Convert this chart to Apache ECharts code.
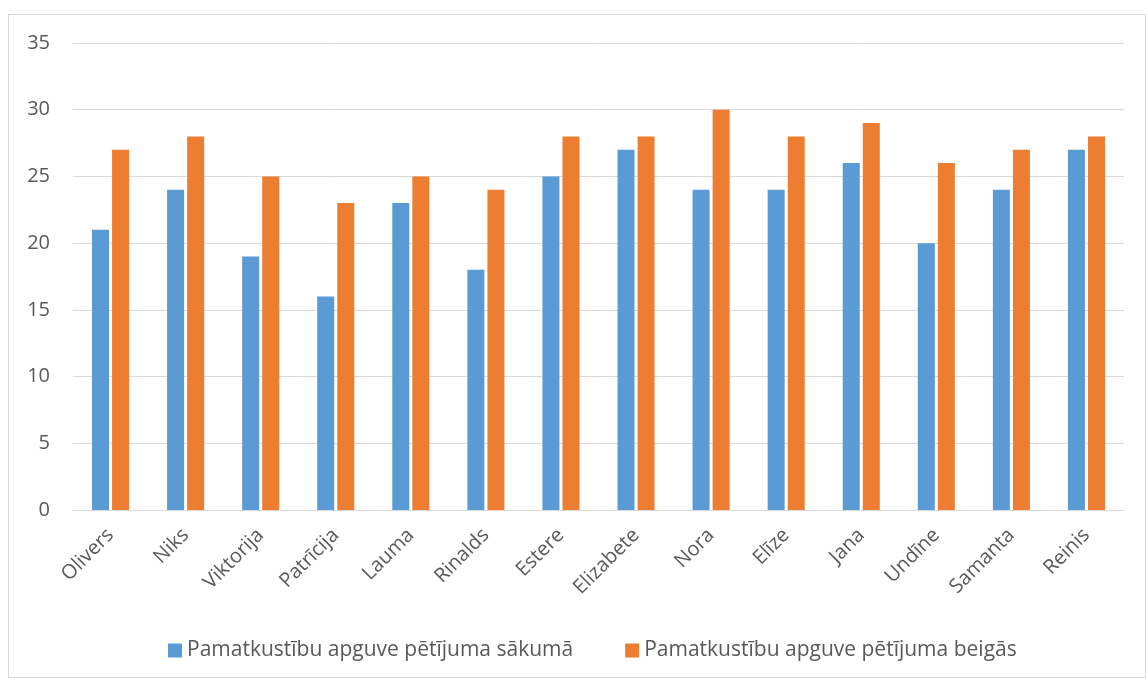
<!DOCTYPE html>
<html><head><meta charset="utf-8">
<script src="https://cdn.jsdelivr.net/npm/echarts@6/dist/echarts.min.js"></script>
<style>html,body{margin:0;padding:0;background:#fff;}#c{position:absolute;left:8px;top:14px;width:1138px;height:664px;border:1px solid #d9d9d9;box-sizing:border-box;}#m{width:1148px;height:680px;}</style>
</head><body><div id="c"></div><div id="m"></div>
<script>
const categories = ['Olivers','Niks','Viktorija','Patrīcija','Lauma','Rinalds','Estere','Elizabete','Nora','Elīze','Jana','Undīne','Samanta','Reinis'];
const startValues = [21,24,19,16,23,18,25,27,24,24,26,20,24,27];
const endValues = [27,28,25,23,25,24,28,28,30,28,29,26,27,28];
const seriesNames = ['Pamatkustību apguve pētījuma sākumā','Pamatkustību apguve pētījuma beigās'];
const chart = echarts.init(document.getElementById('m'));
const font = 'Open Sans';
chart.setOption({
  animation:false,
  grid:{left:73,right:24,top:43,bottom:170},
  legend:{top:635,left:163,itemWidth:14,itemHeight:14,itemGap:52,icon:'rect',
    textStyle:{fontFamily:font,fontSize:21,color:'#595959'}},
  xAxis:{type:'category',data:categories,
    axisLine:{lineStyle:{color:'#d9d9d9',width:1}},axisTick:{show:false},
    axisLabel:{rotate:45,fontFamily:font,fontSize:20,color:'#595959',margin:22,interval:0}},
  yAxis:{type:'value',min:0,max:35,interval:5,
    axisLine:{show:false},axisTick:{show:false},
    splitLine:{lineStyle:{color:'#d9d9d9',width:1}},
    axisLabel:{fontFamily:font,fontSize:20,color:'#595959',margin:23}},
  series:[
    {name:seriesNames[0],type:'bar',data:startValues,itemStyle:{color:'#5b9bd5'},barWidth:17,barGap:'18%'},
    {name:seriesNames[1],type:'bar',data:endValues,itemStyle:{color:'#ed7d31'},barWidth:17}
  ]
});
</script></body></html>
